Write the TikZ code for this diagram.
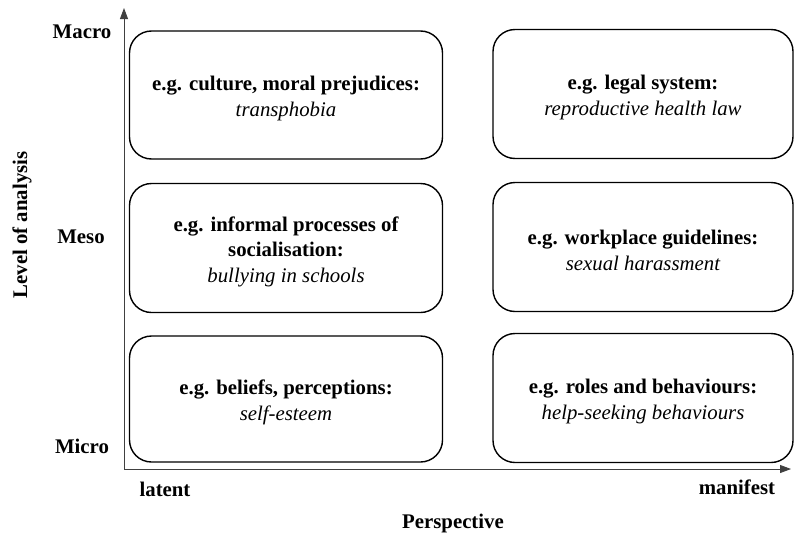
\documentclass[tikz,border=0pt]{standalone}
\usepackage{fontspec}
\setmainfont{Liberation Serif}
\usepackage{tikz}
\usetikzlibrary{positioning, arrows.meta}

\begin{document}
\begin{tikzpicture}[
        x=1pt, y=-1pt,
        every node/.style={align=center, font=\fontsize{20.8}{25.5}\selectfont\bfseries},
        levelbox/.style={rectangle, draw, line width=1.4pt, rounded corners=22pt, inner sep=0pt},
        leftbox/.style={levelbox, minimum width=313pt},
        rightbox/.style={levelbox, minimum width=300pt},
        boxtext/.style={yshift=-3.5pt},
        axis/.style={line width=0.9pt, draw=black!75, -{Triangle[length=11pt, width=8pt]}}
    ]
    \useasboundingbox (0,0) rectangle (794,538);

    % Axes
    \coordinate (origin) at (124,469);
    \coordinate (ytop) at (124,8);
    \coordinate (xend) at (791,469);
    \draw[axis] (origin) -- (ytop);
    \draw[axis] (origin) -- (xend);

    % Level labels
    \node (macro) at (82,32) {Macro};
    \node (meso) at (81,237) {Meso};
    \node (micro) at (82,446) {Micro};
    \node[rotate=90] (level) at (22,225) {Level of analysis};

    % Perspective labels
    \node (latent) at (165,489) {latent};
    \node (manifest) at (737,487) {manifest};
    \node (perspective) at (453,523) {Perspective};

    % Macro row
    \node[leftbox, minimum height=128pt, label={[boxtext]center:e.g. culture, moral prejudices:\\{\mdseries\itshape transphobia}}] (cultbox) at (286,95) {};
    \node[rightbox, minimum height=129pt, label={[boxtext]center:e.g. legal system:\\{\mdseries\itshape reproductive health law}}] (legalbox) at (643,94) {};

    % Meso row
    \node[leftbox, minimum height=129pt, label={[boxtext]center:e.g. informal processes of\\socialisation:\\{\mdseries\itshape bullying in schools}}] (socbox) at (286,248) {};
    \node[rightbox, minimum height=129pt, label={[boxtext]center:e.g. workplace guidelines:\\{\mdseries\itshape sexual harassment}}] (workbox) at (643,247) {};

    % Micro row
    \node[leftbox, minimum height=126pt, label={[boxtext]center:e.g. beliefs, perceptions:\\{\mdseries\itshape self-esteem}}] (beliefbox) at (286,399) {};
    \node[rightbox, minimum height=129pt, label={[boxtext]center:e.g. roles and behaviours:\\{\mdseries\itshape help-seeking behaviours}}] (rolebox) at (643,398) {};

\end{tikzpicture}
\end{document}
